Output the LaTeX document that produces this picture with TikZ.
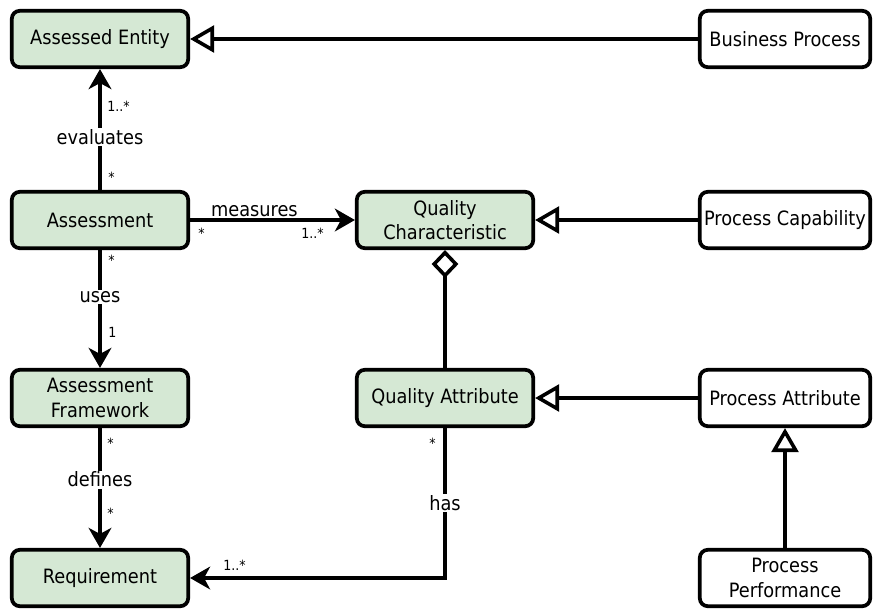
\documentclass[tikz,border=0pt]{standalone}
\usepackage{fontspec}
\setmainfont{DejaVu Sans Condensed}
\usetikzlibrary{arrows.meta}
\definecolor{gfill}{HTML}{D5E8D4}
\begin{document}
\begin{tikzpicture}[x=0.75pt,y=-0.75pt,
  box/.style={draw, line width=2.8pt, rounded corners=6pt, minimum height=42.3pt, inner sep=0pt, align=center, font=\fontsize{14.8}{18.5}\selectfont},
  gbox/.style={box, fill=gfill, minimum width=132.3pt},
  wbox/.style={box, fill=white, minimum width=127.8pt},
  edge/.style={line width=2.7pt},
  classic/.style={edge, -{Stealth[length=15pt,width=17pt,inset=4.5pt]}},
  inherit/.style={edge, -{Triangle[open, fill=white, length=18pt, width=20pt]}},
  aggr/.style={edge, -{Diamond[open, fill=white, length=21pt, width=20pt]}},
  lbl/.style={fill=white, inner sep=1pt, font=\fontsize{14.8}{18.5}\selectfont},
  mult/.style={inner sep=0pt, font=\fontsize{10.5}{12}\selectfont}]
\useasboundingbox (0,0) rectangle (873,611);
% nodes
\node[gbox] (ae)  at (100,39)  {Assessed Entity};
\node[wbox] (bp)  at (785,39)  {Business Process};
\node[gbox] (as)  at (100,220) {Assessment};
\node[gbox] (qc)  at (445,220) {Quality\\Characteristic};
\node[wbox] (pc)  at (785,220) {Process Capability};
\node[gbox] (af)  at (100,398) {Assessment\\Framework};
\node[gbox] (qa)  at (445,398) {Quality Attribute};
\node[wbox] (pa)  at (785,398) {Process Attribute};
\node[gbox] (req) at (100,578) {Requirement};
\node[wbox] (pp)  at (785,578) {Process\\Performance};
% inheritance
\draw[inherit] (bp) -- (ae);
\draw[inherit] (pc) -- (qc);
\draw[inherit] (pa) -- (qa);
\draw[inherit] (pp) -- (pa);
% aggregation
\draw[aggr] (qa) -- (qc);
% associations
\draw[classic] (as) -- (ae) node[lbl, pos=0.44] (l1) {evaluates};
\draw[classic] (as) -- (qc) node[lbl, fill=none, above=0pt, pos=0.39] (l2) {measures};
\draw[classic] (as) -- (af) node[lbl, pos=0.40] (l3) {uses};
\draw[classic] (af) -- (req) node[lbl, pos=0.43] (l4) {defines};
\draw[classic] (qa) |- (req) node[lbl, pos=0.25] (l5) {has};
% multiplicities
\node[mult, anchor=base west] (m1) at (107,111) {1..*};
\node[mult, anchor=base west] (m2) at (108,182) {*};
\node[mult, anchor=base west] (m3) at (198,238) {*};
\node[mult, anchor=base west] (m4) at (301,238) {1..*};
\node[mult, anchor=base west] (m5) at (108,265) {*};
\node[mult, anchor=base west] (m6) at (108,337) {1};
\node[mult, anchor=base west] (m7) at (107,448) {*};
\node[mult, anchor=base west] (m8) at (107,518) {*};
\node[mult, anchor=base east] (m9) at (436,448) {*};
\node[mult, anchor=base west] (m10) at (223,570) {1..*};
\end{tikzpicture}
\end{document}
